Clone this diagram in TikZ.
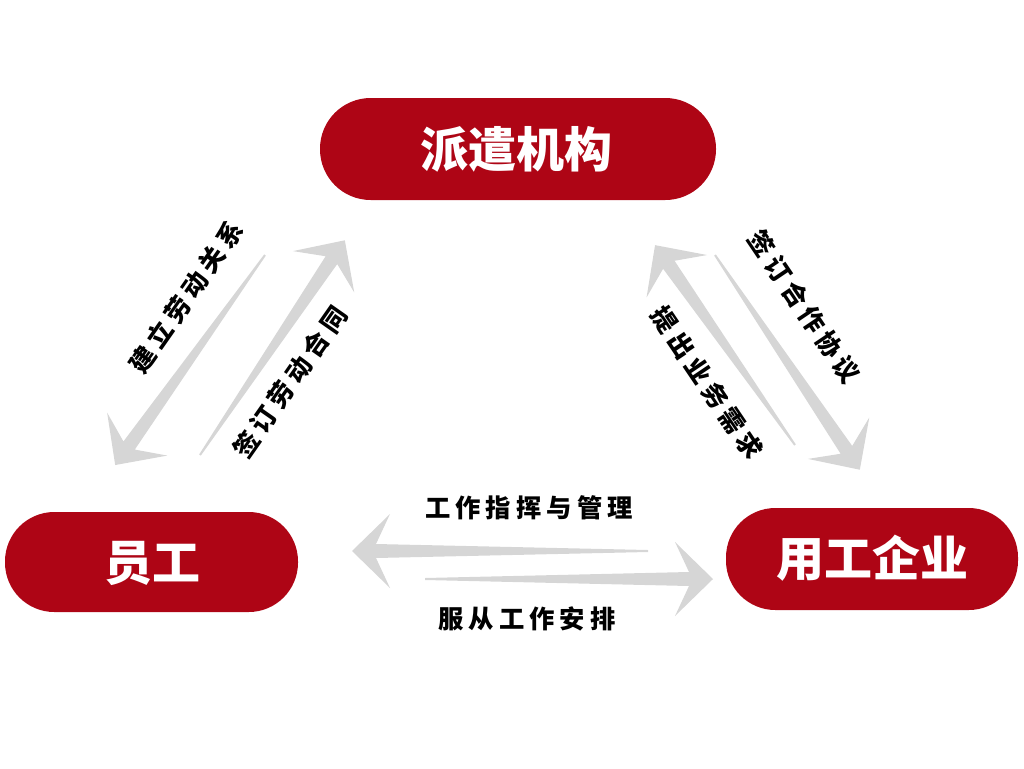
\documentclass[tikz,border=0pt]{standalone}
\usepackage{fontspec}
\setmainfont{Noto Sans CJK SC}
\definecolor{rd}{HTML}{AE0515}
\definecolor{ag}{HTML}{D6D6D6}
\newcommand{\tarr}[4]{% x y angle length (pixels)
\begin{scope}[shift={(#1,#2)},rotate=#3]
\fill[ag] (0,-1) -- (0,1) -- (#4-24,7) -- (#4-38,37) -- (#4,0) -- (#4-38,-37) -- (#4-24,-7) -- cycle;
\end{scope}}
\begin{document}
\begin{tikzpicture}[x=0.75pt,y=-0.75pt,
 ttl/.style={text=white,font=\fontsize{36}{40}\selectfont\bfseries},
 lab/.style={font=\fontsize{19}{21}\selectfont\bfseries\addfontfeatures{LetterSpace=20},text=black}]
\useasboundingbox (0,0) rectangle (1024,768);
\fill[rd,rounded corners=38pt] (320,98) rectangle (716,200);
\node[ttl] (a) at (516,149) {派遣机构};
\fill[rd,rounded corners=37pt] (5,512) rectangle (298,612);
\node[ttl] (b) at (152,563) {员工};
\fill[rd,rounded corners=37pt] (726,508) rectangle (1018,610);
\node[ttl] (c) at (872,558) {用工企业};
\tarr{265}{255}{-125.5}{258}
\tarr{200}{455}{56}{259}
\tarr{795}{445}{125}{244}
\tarr{715}{255}{-56}{259}
\tarr{648}{551}{180}{296}
\tarr{425}{579}{0}{288}
\node[lab,rotate=55] (l1) at (186,297) {建立劳动关系};
\node[lab,rotate=55] (l2) at (290,382) {签订劳动合同};
\node[lab,rotate=-56] (l3) at (804,307) {签订合作协议};
\node[lab,rotate=-56] (l4) at (707,383) {提出业务需求};
\node[lab] (l5) at (529,508) {工作指挥与管理};
\node[lab] (l6) at (527,619) {服从工作安排};
\end{tikzpicture}
\end{document}
